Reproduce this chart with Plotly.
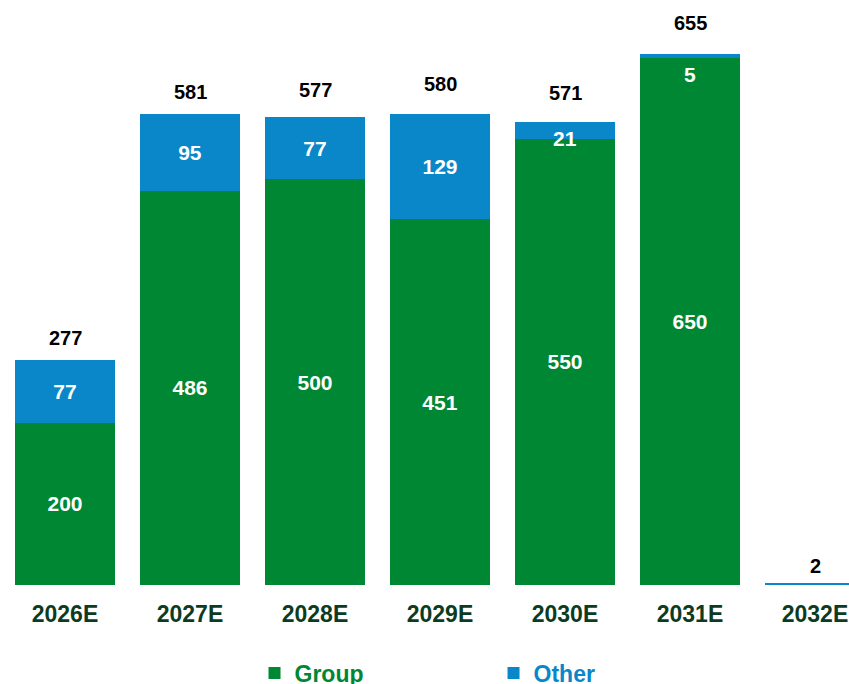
import plotly.graph_objects as go

years = ["2026E", "2027E", "2028E", "2029E", "2030E", "2031E", "2032E"]
group = [200, 486, 500, 451, 550, 650, 0]
other = [77, 95, 77, 129, 21, 5, 2]
totals = [277, 581, 577, 580, 571, 655, 2]

# styling: pixel gaps between bar top and total label, small-label offsets
total_gap = [13, 13, 18, 21, 20, 22, 8]
small_label_shift = {"2030E": -3, "2031E": -7}

GREEN = "#008733"
BLUE = "#0A87C9"
FONT = "Liberation Sans"

group_text = [str(v) if v >= 50 else "" for v in group]
other_text = [str(v) if v >= 50 else "" for v in other]

fig = go.Figure()
fig.add_trace(go.Bar(
    x=years, y=group, name="<span style='color:%s'>Group</span>" % GREEN,
    marker=dict(color=GREEN, line=dict(width=0)),
    text=group_text, textposition="inside", insidetextanchor="middle",
    textfont=dict(family=FONT, size=21, color="white", weight="bold"),
    hoverinfo="skip",
))
fig.add_trace(go.Bar(
    x=years, y=other, name="<span style='color:%s'>Other</span>" % BLUE,
    marker=dict(color=BLUE, line=dict(width=0)),
    text=other_text, textposition="inside", insidetextanchor="middle",
    textfont=dict(family=FONT, size=21, color="white", weight="bold"),
    hoverinfo="skip",
))

annotations = []
for yr, t, gap in zip(years, totals, total_gap):
    annotations.append(dict(
        x=yr, y=t, text=str(t), showarrow=False, yanchor="bottom", yshift=gap - 4,
        font=dict(family=FONT, size=20, color="black", weight="bold"),
    ))
for yr, g, o in zip(years, group, other):
    if yr in small_label_shift:
        annotations.append(dict(
            x=yr, y=g + o, text=str(o), showarrow=False, yanchor="top",
            yshift=small_label_shift[yr],
            font=dict(family=FONT, size=21, color="white", weight="bold"),
        ))

fig.update_layout(
    width=849, height=684,
    margin=dict(l=0, r=0, t=0, b=99, autoexpand=False),
    barmode="stack", bargap=0.2,
    plot_bgcolor="white", paper_bgcolor="white",
    annotations=annotations,
    showlegend=True,
    legend=dict(
        orientation="h", x=0.2998, xanchor="left",
        yref="container", y=0.016, yanchor="middle",
        font=dict(family=FONT, size=23, weight="bold"),
        entrywidth=194, entrywidthmode="pixels", traceorder="normal",
        itemwidth=30,
    ),
    xaxis=dict(
        range=[-0.52, 6.272], showgrid=False, zeroline=False, showline=False,
        tickfont=dict(family=FONT, size=23, color="#0D3B1F", weight="bold"),
        ticks="", ticklabelstandoff=13,
    ),
    yaxis=dict(range=[0, 721], visible=False, showgrid=False),
)

fig.write_html(
    "out.html",
    config={"displayModeBar": False},
    post_script="document.body.style.margin='0';document.body.style.overflow='hidden';",
)
